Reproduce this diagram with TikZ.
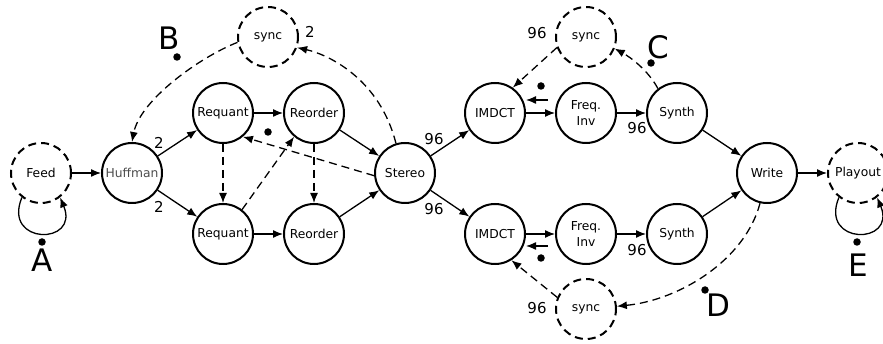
\documentclass[tikz,border=0pt]{standalone}
\usepackage{fontspec}
\setmainfont{DejaVu Sans}
\usetikzlibrary{arrows.meta}
\begin{document}
\begin{tikzpicture}[x=1pt,y=-1pt,
  proc/.style={circle,draw,line width=2pt,minimum size=60pt,inner sep=0pt,align=center,
    font=\fontsize{12.3}{15.5}\selectfont},
  ext/.style={proc,dash pattern=on 8pt off 5pt},
  flow/.style={line width=1.3pt,-{Latex[length=10pt,width=8pt]}},
  dflow/.style={flow,dash pattern=on 8pt off 5pt},
  lbl/.style={font=\fontsize{15}{15}\selectfont,inner sep=0pt},
  big/.style={font=\fontsize{31}{31}\selectfont,inner sep=0pt},
  dot/.style={circle,fill,inner sep=0pt,minimum size=7.5pt}
]
\useasboundingbox (0,0) rectangle (883,344);

% nodes
\node[ext]  (Feed)    at (41,173)  {Feed};
\node[proc,text=black!70] (Huffman) at (132,173) {Huffman};
\node[proc] (RqA)     at (223,113) {Requant};
\node[proc] (RqB)     at (223,234) {Requant};
\node[proc] (RoA)     at (314,113) {Reorder};
\node[proc] (RoB)     at (314,234) {Reorder};
\node[proc] (Stereo)  at (405,173) {Stereo};
\node[ext]  (SyncA)   at (268,37)  {sync};
\node[proc] (ImA)     at (495,113) {IMDCT};
\node[proc] (ImB)     at (495,234) {IMDCT};
\node[proc] (FqA)     at (586,113) {Freq.\\Inv};
\node[proc] (FqB)     at (586,234) {Freq.\\Inv};
\node[proc] (SyA)     at (677,113) {Synth};
\node[proc] (SyB)     at (677,234) {Synth};
\node[proc] (Write)   at (767,173) {Write};
\node[ext]  (Playout) at (858,173) {Playout};
\node[ext]  (SyncB)   at (586,37)  {sync};
\node[ext]  (SyncC)   at (586,309) {sync};

% solid connectors
\draw[flow] (Feed) -- (Huffman);
\draw[flow] (Huffman) -- (RqA);
\draw[flow] (Huffman) -- (RqB);
\draw[flow] (RqA) -- (RoA);
\draw[flow] (RqB) -- (RoB);
\draw[flow] (RoA) -- (Stereo);
\draw[flow] (RoB) -- (Stereo);
\draw[flow] (Stereo) -- (ImA);
\draw[flow] (Stereo) -- (ImB);
\draw[flow] (ImA) -- (FqA);
\draw[flow] (ImB) -- (FqB);
\draw[flow] (FqA) -- (SyA);
\draw[flow] (FqB) -- (SyB);
\draw[flow] (SyA) -- (Write);
\draw[flow] (SyB) -- (Write);
\draw[flow] (Write) -- (Playout);

% short return arrows
\coordinate (bA) at (548,100);
\coordinate (bB) at (548,246);
\draw[flow] (bA) -- (ImA.east |- bA);
\draw[flow] (bB) -- (ImB.east |- bB);

% self loops
\draw[flow] (Feed.232) .. controls +(-20,48) and +(20,48) .. (Feed.308);
\draw[flow] (Playout.232) .. controls +(-20,48) and +(20,48) .. (Playout.308);

% dashed connectors
\draw[dflow] (RqA) -- (RqB);
\draw[dflow] (RoA) -- (RoB);
\draw[dflow] (RqB.52) -- (RoA.230);
\draw[dflow] (Stereo.185) -- (RqA.-50);
\draw[dflow] (Stereo.107) .. controls (380,80) and (330,55) .. (SyncA.-20);
\draw[dflow] (SyncA.190) .. controls (200,57) and (140,100) .. (Huffman.north);
\draw[dflow] (SyA.128) .. controls (648,70) and (630,57) .. (SyncB.-22);
\draw[dflow] (SyncB.200) -- (ImA.55);
\draw[dflow] (Write.257) .. controls (745,260) and (680,300) .. (SyncC.5);
\draw[dflow] (SyncC.158) -- (ImB.-58);

% labels
\node[lbl] (n1) at (310,32) {2};
\node[lbl] (n2) at (159,143) {2};
\node[lbl] (n3) at (159,207) {2};
\node[lbl] (n4) at (434,139) {96};
\node[lbl] (n5) at (434,209) {96};
\node[lbl] (n6) at (537,33) {96};
\node[lbl] (n7) at (537,308) {96};
\node[lbl] (n8) at (637,128) {96};
\node[lbl] (n9) at (637,250) {96};

% markers
\node[big] (LA) at (42,260) {A};
\node[dot] (dA) at (42,242) {};
\node[big] (LB) at (169,38) {B};
\node[dot] (dB) at (177,57) {};
\node[big] (LC) at (658,47) {C};
\node[dot] (dC) at (651,63) {};
\node[big] (LD) at (718,305) {D};
\node[dot] (dD) at (705,290) {};
\node[big] (LE) at (858,265) {E};
\node[dot] (dE) at (857,242) {};
\node[dot] (d1) at (268,132) {};
\node[dot] (d2) at (541,86) {};
\node[dot] (d3) at (541,258) {};
\end{tikzpicture}
\end{document}
